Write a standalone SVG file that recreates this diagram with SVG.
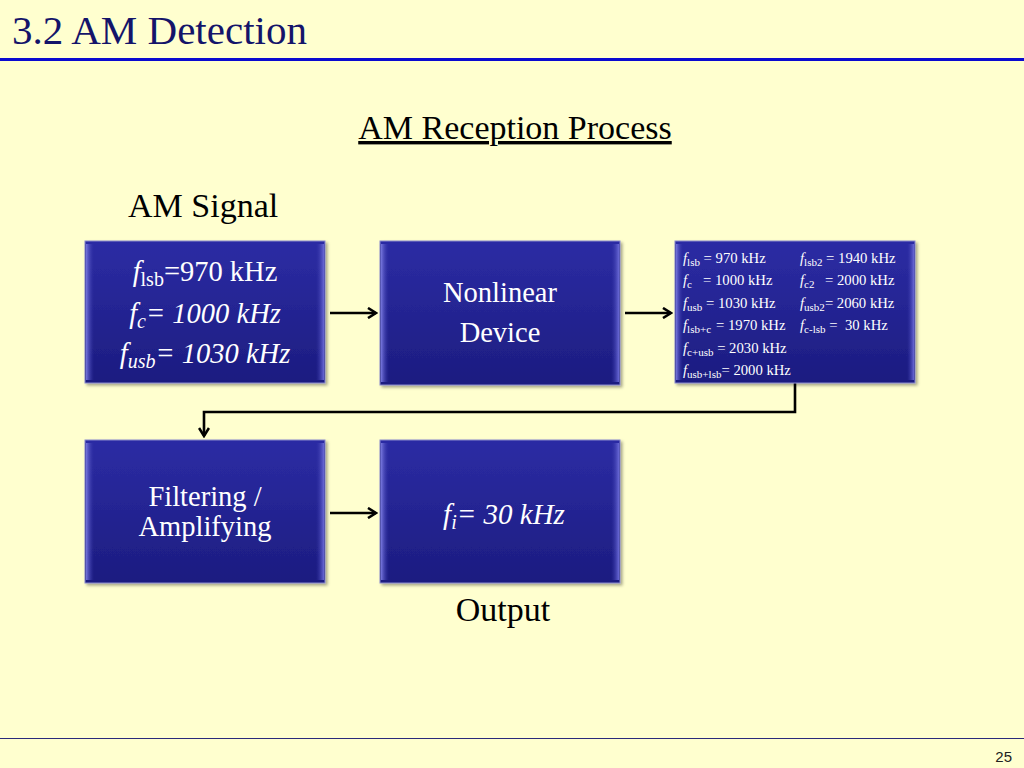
<svg xmlns="http://www.w3.org/2000/svg" width="1024" height="768" viewBox="0 0 1024 768">
<defs>
<linearGradient id="bg" x1="0" y1="0" x2="0" y2="1">
<stop offset="0" stop-color="#2c2ca4"/>
<stop offset="1" stop-color="#1c1c80"/>
</linearGradient>
<linearGradient id="lb" x1="0" y1="0" x2="1" y2="0">
<stop offset="0" stop-color="#7777dd"/>
<stop offset="1" stop-color="#3535a8" stop-opacity="0"/>
</linearGradient>
<linearGradient id="rb" x1="0" y1="0" x2="1" y2="0">
<stop offset="0" stop-color="#3535a8" stop-opacity="0"/>
<stop offset="1" stop-color="#6a6ad6"/>
</linearGradient>
<marker id="ah" viewBox="0 0 12 12" refX="10" refY="6" markerWidth="12" markerHeight="12" markerUnits="userSpaceOnUse" orient="auto">
<path d="M2,1 L10,6 L2,11" fill="none" stroke="#000" stroke-width="2.6"/>
</marker>
<filter id="sh" x="-5%" y="-5%" width="112%" height="115%">
<feDropShadow dx="2" dy="2" stdDeviation="1.5" flood-color="#000" flood-opacity="0.35"/>
</filter>
</defs>
<style>
.box{fill:url(#bg);stroke:#8888cc;stroke-width:1;filter:url(#sh)}
.wt{fill:#fff;font-family:"Liberation Serif",serif}
.sm{font-size:14.7px}
.conn{fill:none;stroke:#000;stroke-width:2.6}
.blk{font-family:"Liberation Serif",serif;font-size:34px;fill:#000}
</style>
<rect width="1024" height="768" fill="#ffffcf"/>
<text x="12" y="44" font-family="Liberation Serif,serif" font-size="41" fill="#14146a">3.2 AM Detection</text>
<rect x="0" y="58" width="1024" height="3" fill="#0a0ad0"/>
<rect x="0" y="738" width="1024" height="1" fill="#2a2a7a"/>
<text x="1012" y="762" text-anchor="end" font-family="Liberation Sans,sans-serif" font-size="15" fill="#222">25</text>
<text class="blk" x="515" y="139" text-anchor="middle" text-decoration="underline">AM Reception Process</text>
<text class="blk" x="128" y="217">AM Signal</text>
<text class="blk" x="503" y="621" text-anchor="middle">Output</text>

<g id="connectors">
<line class="conn" x1="330" y1="313" x2="376" y2="313" marker-end="url(#ah)"/>
<line class="conn" x1="625" y1="313" x2="671" y2="313" marker-end="url(#ah)"/>
<line class="conn" x1="330" y1="513" x2="376" y2="513" marker-end="url(#ah)"/>
<polyline class="conn" points="795,383 795,412 204,412 204,436" marker-end="url(#ah)"/>
</g>

<g id="am-signal">
<rect class="box" x="85" y="241" width="240" height="142"/>
<rect x="86" y="244" width="8" height="136" fill="url(#lb)"/>
<rect x="316" y="244" width="8" height="136" fill="url(#rb)"/>
<text class="wt" font-size="28.5" text-anchor="middle"><tspan x="205" y="281"><tspan font-style="italic">f</tspan><tspan font-size="20" dy="5">lsb</tspan><tspan dy="-5">=970 kHz</tspan></tspan></text>
<text class="wt" font-size="28.5" font-style="italic" text-anchor="middle"><tspan x="205" y="323">f<tspan font-size="20" dy="5">c</tspan><tspan dy="-5">= 1000 kHz</tspan></tspan></text>
<text class="wt" font-size="28.5" font-style="italic" text-anchor="middle"><tspan x="205" y="363">f<tspan font-size="20" dy="5">usb</tspan><tspan dy="-5">= 1030 kHz</tspan></tspan></text>
</g>

<g id="nonlinear">
<rect class="box" x="380" y="241" width="240" height="144"/>
<rect x="381" y="244" width="8" height="138" fill="url(#lb)"/>
<rect x="611" y="244" width="8" height="138" fill="url(#rb)"/>
<text class="wt" font-size="28.5" text-anchor="middle"><tspan x="500" y="302">Nonlinear</tspan><tspan x="500" y="342">Device</tspan></text>
</g>

<g id="products">
<rect class="box" x="675" y="241" width="240" height="142"/>
<rect x="676" y="244" width="7" height="136" fill="url(#lb)"/>
<rect x="907" y="244" width="7" height="136" fill="url(#rb)"/>
<g class="wt sm">
<text x="683" y="263"><tspan font-style="italic">f</tspan><tspan font-size="11" dy="3">lsb</tspan><tspan dy="-3"> = 970 kHz</tspan></text>
<text x="683" y="285"><tspan font-style="italic">f</tspan><tspan font-size="11" dy="3">c</tspan><tspan x="703" dy="-3">= 1000 kHz</tspan></text>
<text x="683" y="308"><tspan font-style="italic">f</tspan><tspan font-size="11" dy="3">usb</tspan><tspan dy="-3"> = 1030 kHz</tspan></text>
<text x="683" y="330"><tspan font-style="italic">f</tspan><tspan font-size="11" dy="3">lsb+c</tspan><tspan x="716" dy="-3">= 1970 kHz</tspan></text>
<text x="683" y="353"><tspan font-style="italic">f</tspan><tspan font-size="11" dy="3">c+usb</tspan><tspan dy="-3"> = 2030 kHz</tspan></text>
<text x="683" y="375"><tspan font-style="italic">f</tspan><tspan font-size="11" dy="3">usb+lsb</tspan><tspan dy="-3">= 2000 kHz</tspan></text>
<text x="800" y="263"><tspan font-style="italic">f</tspan><tspan font-size="11" dy="3">lsb2</tspan><tspan dy="-3"> = 1940 kHz</tspan></text>
<text x="800" y="285"><tspan font-style="italic">f</tspan><tspan font-size="11" dy="3">c2</tspan><tspan x="825" dy="-3">= 2000 kHz</tspan></text>
<text x="800" y="308"><tspan font-style="italic">f</tspan><tspan font-size="11" dy="3">usb2</tspan><tspan dy="-3">= 2060 kHz</tspan></text>
<text x="800" y="330"><tspan font-style="italic">f</tspan><tspan font-size="11" dy="3">c-lsb</tspan><tspan dy="-3"> = </tspan><tspan x="845">30 kHz</tspan></text>
</g>
</g>

<g id="filtering">
<rect class="box" x="85" y="440" width="240" height="143"/>
<rect x="86" y="443" width="8" height="137" fill="url(#lb)"/>
<rect x="316" y="443" width="8" height="137" fill="url(#rb)"/>
<text class="wt" font-size="28.5" text-anchor="middle"><tspan x="205" y="506">Filtering /</tspan><tspan x="205" y="536">Amplifying</tspan></text>
</g>

<g id="output">
<rect class="box" x="380" y="440" width="240" height="143"/>
<rect x="381" y="443" width="8" height="137" fill="url(#lb)"/>
<rect x="611" y="443" width="8" height="137" fill="url(#rb)"/>
<text class="wt" font-size="29" font-style="italic" text-anchor="middle"><tspan x="504" y="524">f<tspan font-size="20" dy="5">i</tspan><tspan dy="-5">= 30 kHz</tspan></tspan></text>
</g>
</svg>
